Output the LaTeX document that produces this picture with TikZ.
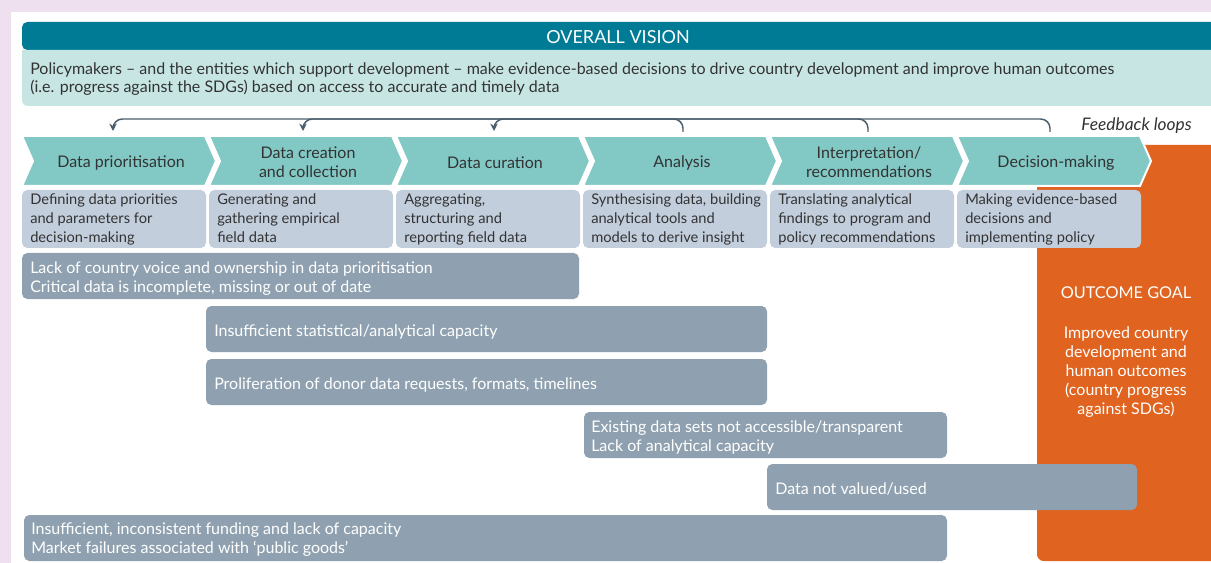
\documentclass[tikz,border=0pt]{standalone}
\usepackage{fontspec}
\setmainfont{Lato}
\usepackage{xcolor}
\usetikzlibrary{arrows.meta}

\definecolor{pagelilac}{HTML}{EEE0EE}
\definecolor{visionteal}{HTML}{007B95}
\definecolor{visionlight}{HTML}{C6E5E3}
\definecolor{stageteal}{HTML}{82C8C4}
\definecolor{stepblue}{HTML}{C3CEDD}
\definecolor{gapgrey}{HTML}{8FA1B0}
\definecolor{goalorange}{HTML}{E0631F}
\definecolor{loopline}{HTML}{4A5E6E}
\definecolor{bodytext}{HTML}{333333}

\begin{document}
\begin{tikzpicture}[x=0.75pt, y=-0.75pt,
	txt/.style={font=\fontsize{12}{14.25}\selectfont, inner sep=0pt},
	stage/.style={fill=stageteal, draw=white, line width=1.5pt},
	stagetext/.style={txt, text=bodytext, align=center},
	stepbox/.style={fill=stepblue, rounded corners=4pt},
	steptext/.style={txt, text=bodytext, anchor=north west, align=left},
	gap/.style={fill=gapgrey, rounded corners=4pt},
	gaptext/.style={txt, text=white, anchor=west, align=left},
	feedback/.style={draw=loopline, line width=1.1pt, rounded corners=7pt, -{Stealth[length=5.5pt, width=5.5pt]}}]
	\useasboundingbox (0,0) rectangle (1211,563);
	\fill[pagelilac] (0,0) rectangle (1211,563);
	\fill[white] (11,12) rectangle (1211,563);
	
	\fill[visionteal] (1211,22) [rounded corners=4pt] -- (22,22) -- (22,50) [sharp corners] -- (1211,50) -- cycle;
	\node[txt, text=white, font=\fontsize{13.5}{14}\selectfont] (vision) at (618,37) {OVERALL VISION};
	\fill[visionlight] (1211,50) -- (22,50) [rounded corners=4pt] -- (22,106) [sharp corners] -- (1211,106) -- cycle;
	\node[steptext, font=\fontsize{12}{13.5}\selectfont] (visiontext) at (30,62) {Policymakers – and the entities which support development – make evidence-based decisions to drive country development and improve human outcomes\\(i.e. progress against the SDGs) based on access to accurate and timely data};
	
	\fill[goalorange] (1211,145) -- (1037,145) [rounded corners=5pt] -- (1037,561) [sharp corners] -- (1211,561) -- cycle;
	\node[txt, text=white, font=\fontsize{12.2}{14}\selectfont] (goal) at (1126,293) {OUTCOME GOAL};
	\node[stagetext, text=white] (goaltext) at (1126,372) {Improved country\\development and\\human outcomes\\(country progress\\against SDGs)};
	
	\foreach \y/\txt [count=\i from 0] in {163/Data prioritisation, 162/{Data creation\\and collection}, 163/Data curation, 163/Analysis, 162/{Interpretation/\\recommendations}, 163/Decision-making} {
		\pgfmathsetmacro{\xl}{22+187*\i}
		\filldraw[stage] (\xl,136) -- ({\xl+183},136) -- ({\xl+194},161) -- ({\xl+183},186) -- (\xl,186) -- ({\xl+11},161) -- cycle;
		\node[stagetext] (stage\i) at ({\xl+99},\y) {\txt};
	}
	
	\foreach \txt [count=\i from 0] in {{Defining data priorities\\and parameters for\\decision-making}, {Generating and\\gathering empirical\\field data}, {Aggregating,\\structuring and\\reporting field data}, {Synthesising data, building\\analytical tools and\\models to derive insight}, {Translating analytical\\findings to program and\\policy recommendations}, {Making evidence-based\\decisions and\\implementing policy}} {
		\fill[stepbox] ({22+187*\i},190) rectangle ({206+187*\i},248);
		\node[steptext, font=\fontsize{11}{14.25}\selectfont] (step\i) at ({30+187*\i},193.5) {\txt};
	}
	
	\fill[gap] (22,253) rectangle (579,299);
	\node[gaptext] (gap1) at (30,279) {Lack of country voice and ownership in data prioritisation\\Critical data is incomplete, missing or out of date};
	\fill[gap] (206,306) rectangle (767,352);
	\node[gaptext] (gap2) at (214,332) {Insufficient statistical/analytical capacity};
	\fill[gap] (206,359) rectangle (767,405);
	\node[gaptext] (gap3) at (214,385) {Proliferation of donor data requests, formats, timelines};
	\fill[gap] (584,412) rectangle (947,458);
	\node[gaptext] (gap4) at (591,437) {Existing data sets not accessible/transparent\\Lack of analytical capacity};
	\fill[gap] (767,464) rectangle (1137,510);
	\node[gaptext] (gap5) at (775,489) {Data not valued/used};
	\fill[gap] (24,515) rectangle (947,561);
	\node[gaptext] (gap6) at (31,540) {Insufficient, inconsistent funding and lack of capacity\\Market failures associated with ‘public goods’};
	
	\coordinate (fbin1) at (113,131);
	\coordinate (fbin2) at (303,131);
	\coordinate (fbin3) at (494,131);
	\coordinate (fbout1) at (683,132);
	\coordinate (fbout2) at (868,132);
	\coordinate (fbout3) at (1050,132);
	\draw[feedback] (fbout1) -- ++(0,-13) -| (fbin3);
	\draw[feedback] (fbout2) -- ++(0,-13) -| (fbin2);
	\draw[feedback] (fbout3) -- ++(0,-13) -| (fbin1);
	\node[txt, text=bodytext, font=\itshape\fontsize{13}{14}\selectfont, anchor=east] (loops) at (1192,126) {Feedback loops};
\end{tikzpicture}
\end{document}
